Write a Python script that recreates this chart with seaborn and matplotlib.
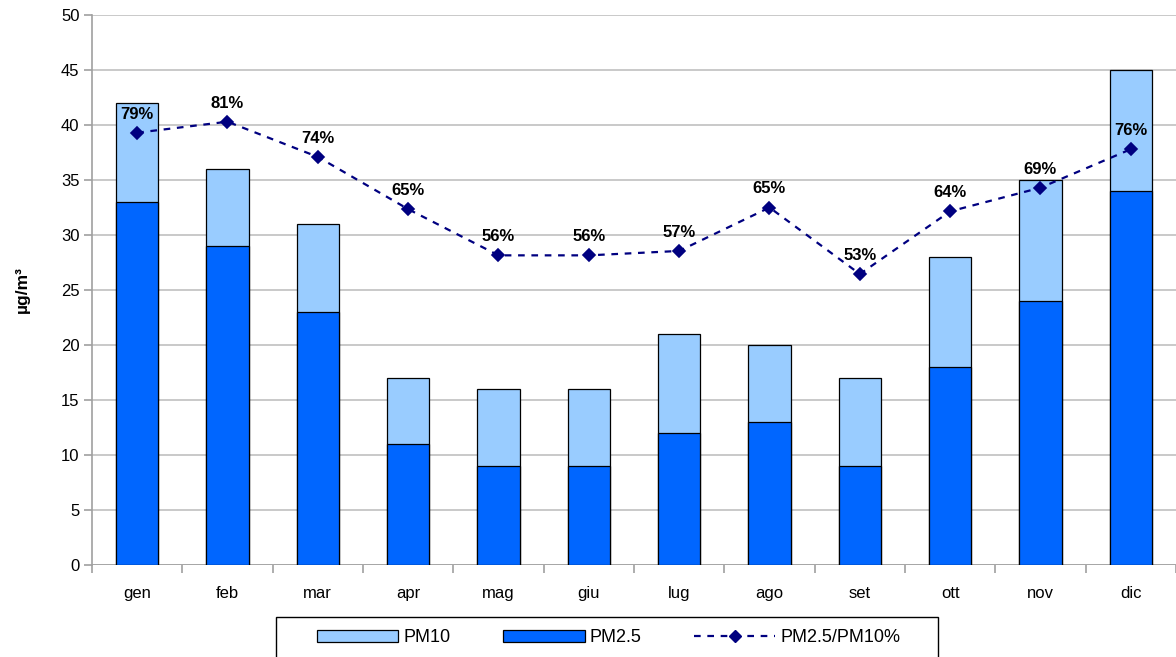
import numpy as np
import pandas as pd
import matplotlib
matplotlib.use("Agg")
import matplotlib.pyplot as plt
import seaborn as sns
from matplotlib.patches import Patch, Rectangle
from matplotlib.lines import Line2D

months = ["gen", "feb", "mar", "apr", "mag", "giu", "lug", "ago", "set", "ott", "nov", "dic"]
pm10 = [42, 36, 31, 17, 16, 16, 21, 20, 17, 28, 35, 45]
pm25 = [33, 29, 23, 11, 9, 9, 12, 13, 9, 18, 24, 34]
ratio_pct = [78.6, 80.6, 74.2, 64.7, 56.3, 56.3, 57.1, 65.0, 52.9, 64.3, 68.6, 75.6]

C_PM10 = "#99ccff"
C_PM25 = "#0066ff"
C_LINE = "#000080"
GRID = "#c0c0c0"
AXIS = "#a0a0a0"

sns.set_theme(style="white")
plt.rcParams["font.family"] = ["Liberation Sans", "DejaVu Sans"]
plt.rcParams["text.color"] = "black"
plt.rcParams["axes.labelcolor"] = "black"
plt.rcParams["xtick.color"] = "black"
plt.rcParams["ytick.color"] = "black"

df = pd.DataFrame({"mese": months, "PM10": pm10, "PM2.5": pm25, "ratio": ratio_pct})

W, H = 1176, 657
fig = plt.figure(figsize=(W / 100, H / 100), dpi=100)
ax = fig.add_axes([92 / W, 1 - 565 / H, 1 - 92 / W, (565 - 15) / H])

sns.barplot(data=df, x="mese", y="PM10", color=C_PM10, width=0.465,
            edgecolor="black", linewidth=0.9, saturation=1, ax=ax, zorder=2)
sns.barplot(data=df, x="mese", y="PM2.5", color=C_PM25, width=0.465,
            edgecolor="black", linewidth=0.9, saturation=1, ax=ax, zorder=3)

ax.set_ylim(0, 50)
ax.set_xlim(-0.5, len(months) - 0.5)
ax.set_yticks(np.arange(0, 51, 5))
ax.yaxis.grid(True, color=GRID, linewidth=1.2, zorder=0)
ax.set_axisbelow(True)
ax.set_xlabel("")
ax.set_ylabel("µg/m³", fontsize=12.5, fontweight="bold")
ax.yaxis.set_label_coords(-(92 - 30) / (W - 92), 0.5)
for s in ["top", "right", "bottom"]:
    ax.spines[s].set_visible(False)
ax.spines["left"].set_color(AXIS)
ax.spines["left"].set_linewidth(1.2)
ax.axhline(0, color=AXIS, linewidth=1.2, zorder=1)
ax.tick_params(axis="y", which="major", left=True, length=6, width=1.2,
               color=AXIS, labelsize=12, pad=3, labelcolor="black")
ax.tick_params(axis="x", which="major", bottom=False, labelsize=12, pad=9,
               labelcolor="black")
ax.set_xticks(np.arange(-0.5, len(months) - 0.4, 1), minor=True)
ax.tick_params(axis="x", which="minor", bottom=True, length=6, width=1.2, color=AXIS)

# ratio line on a hidden secondary scale (0-100 %)
ax2 = ax.twinx()
sns.pointplot(data=df, x="mese", y="ratio", color=C_LINE, markers="D",
              linestyles=(0, (3, 3)), markersize=6, linewidth=1.6, ax=ax2, zorder=5)
ax2.set_ylim(0, 100)
ax2.set_xlim(-0.5, len(months) - 0.5)
ax2.axis("off")
for i, r in enumerate(ratio_pct):
    ax2.annotate(f"{r:.0f}%", (i, r), xytext=(0, 8), textcoords="offset points",
                 ha="center", va="bottom", fontsize=12, fontweight="bold", zorder=6)

# legend box along the bottom edge
frame = Rectangle((276 / W, -0.02), (938 - 276) / W, 0.02 + (H - 617) / H,
                  transform=fig.transFigure, facecolor="white", edgecolor="black",
                  linewidth=1.0, zorder=0)
fig.patches.append(frame)

handles = [
    Patch(facecolor=C_PM10, edgecolor="black", linewidth=0.9),
    Patch(facecolor=C_PM25, edgecolor="black", linewidth=0.9),
    Line2D([], [], color=C_LINE, linestyle=(0, (3, 3)), linewidth=1.6,
           marker="D", markersize=6),
]
leg = fig.legend(handles, ["PM10", "PM2.5", "PM2.5/PM10%"], loc="center",
                 bbox_to_anchor=(609 / W, 1 - 638 / H), ncol=3, fontsize=13,
                 frameon=False, handlelength=4.5, handleheight=0.6,
                 handletextpad=0.3, columnspacing=2.9, borderpad=0,
                 borderaxespad=0)

fig.savefig("out.png", dpi=100)
